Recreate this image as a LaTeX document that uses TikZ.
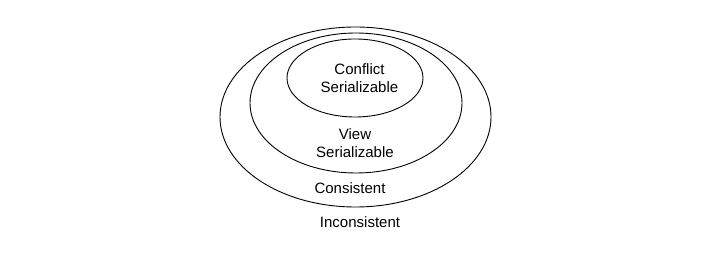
\documentclass[tikz,border=0pt]{standalone}
\usepackage{fontspec}
\setmainfont{Liberation Sans}
\begin{document}
\begin{tikzpicture}[x=1pt,y=-1pt,
  ring/.style={draw=black,line width=0.9pt},
  lbl/.style={font=\fontsize{15}{18}\selectfont,align=center,inner sep=0pt}]
\useasboundingbox[fill=white] (0,0) rectangle (720,261);
\draw[ring] (355.5,117) ellipse [x radius=135.5, y radius=90];
\draw[ring] (356,103) ellipse [x radius=106, y radius=70];
\draw[ring] (355,78) ellipse [x radius=68, y radius=39];
\node[lbl] (cs) at (359.5,78) {Conflict\\Serializable};
\node[lbl] (vs) at (355,143) {View\\Serializable};
\node[lbl] (c) at (350,188) {Consistent};
\node[lbl] (ic) at (360,222) {Inconsistent};
\end{tikzpicture}
\end{document}
